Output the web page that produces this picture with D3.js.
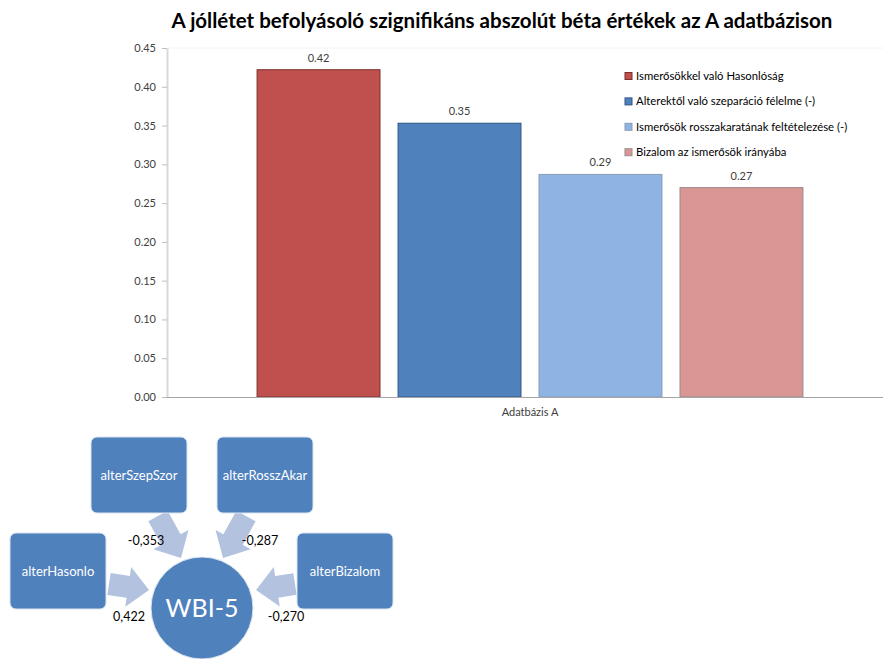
<!DOCTYPE html>
<html lang="en">
<head>
  <meta charset="UTF-8">
  <title>Béta értékek</title>
  <style>
    body, html {
      margin: 0;
      padding: 0;
      background: #fff;
    }
    svg text {
      font-family: Lato, "Open Sans", sans-serif;
    }
  </style>
</head>
<body>
  <svg id="svg" width="883" height="659"></svg>
  <script src="https://d3js.org/d3.v7.min.js"></script>
  <script>
    // chart data
    const category = "Adatbázis A"
    const series = [
      "Ismerősökkel való Hasonlóság",
      "Alterektől való szeparáció félelme (-)",
      "Ismerősök rosszakaratának feltételezése (-)",
      "Bizalom az ismerősök irányába"
    ]
    const values = [0.422, 0.353, 0.287, 0.270]
    const valueLabels = ["0.42", "0.35", "0.29", "0.27"]
    const tickValues = [0, 0.05, 0.10, 0.15, 0.20, 0.25, 0.30, 0.35, 0.40, 0.45]
    const fills = ["#c0504d", "#4f81bd", "#8eb4e3", "#d99694"]
    const strokes = ["#7a2f2d", "#2f5682", "#8a9bb5", "#9a8a8a"]

    // path diagram data
    const nodeNames = ["alterHasonlo", "alterSzepSzor", "alterRosszAkar", "alterBizalom"]
    const coefLabels = ["0,422", "-0,353", "-0,287", "-0,270"]
    const centerName = "WBI-5"

    const svg = d3.select("#svg")

    // title
    svg.append('text')
      .attr('x', 502)
      .attr('y', 28)
      .attr('text-anchor', 'middle')
      .style('font-size', '20.5px')
      .style('font-weight', 'bold')
      .style('fill', '#000')
      .text('A jóllétet befolyásoló szignifikáns abszolút béta értékek az A adatbázison')

    // scales
    const y = d3.scaleLinear().domain([0, 0.45]).range([397, 48])
    const x0 = d3.scaleBand().domain([category]).range([167, 893]).paddingOuter(0.165)
    const x1 = d3.scaleBand().domain(series)
      .range([x0(category), x0(category) + x0.bandwidth()])
      .paddingInner(0.128)

    // faint plot border top
    svg.append('line')
      .attr('x1', 167).attr('x2', 883)
      .attr('y1', y(0.45)).attr('y2', y(0.45))
      .attr('stroke', '#f2f2f2')

    // y axis
    const yAxis = svg.append('g')
      .attr('transform', 'translate(167,0)')
      .call(d3.axisLeft(y).tickValues(tickValues).tickFormat(d3.format('.2f')).tickSize(5).tickSizeOuter(0))
    yAxis.select('.domain').attr('stroke', '#d9d9d9').attr('stroke-width', 2)
    yAxis.selectAll('.tick line').attr('stroke', '#bfbfbf')
    yAxis.selectAll('.tick text')
      .attr('x', -11)
      .style('font-size', '11px')
      .style('fill', '#404040')
      .style('font-family', 'Lato, sans-serif')

    // bars
    svg.append('g')
      .selectAll('rect')
      .data(values)
      .enter()
      .append('rect')
      .attr('x', (d, i) => x1(series[i]))
      .attr('y', d => y(d))
      .attr('width', x1.bandwidth())
      .attr('height', d => y(0) - y(d))
      .attr('fill', (d, i) => fills[i])
      .attr('stroke', (d, i) => strokes[i])
      .attr('stroke-width', 1)

    // value labels
    svg.append('g')
      .selectAll('text')
      .data(values)
      .enter()
      .append('text')
      .attr('x', (d, i) => x1(series[i]) + x1.bandwidth() / 2)
      .attr('y', d => y(d) - 8)
      .attr('text-anchor', 'middle')
      .style('font-size', '11px')
      .style('fill', '#404040')
      .text((d, i) => valueLabels[i])

    // x axis
    const xAxis = svg.append('g')
      .attr('transform', `translate(0,${y(0)})`)
      .call(d3.axisBottom(x0).tickSize(0))
    xAxis.select('.domain').attr('stroke', '#a6a6a6').attr('d', 'M167,0.5H883')
    xAxis.selectAll('.tick text')
      .attr('y', 11)
      .style('font-size', '11px')
      .style('fill', '#404040')
      .style('font-family', 'Lato, sans-serif')

    // legend
    const legend = svg.append('g')
      .attr('transform', 'translate(625,76)')
    const rows = legend.selectAll('g')
      .data(series)
      .enter()
      .append('g')
      .attr('transform', (d, i) => `translate(0,${i * 25.4})`)
    rows.append('rect')
      .attr('x', 0).attr('y', -3.5)
      .attr('width', 7).attr('height', 7)
      .attr('fill', (d, i) => fills[i])
      .attr('stroke', (d, i) => strokes[i])
    rows.append('text')
      .attr('x', 11)
      .attr('y', 4)
      .style('font-size', '11.3px')
      .style('fill', '#000')
      .text(d => d)

    // path diagram
    const boxW = 96, boxH = 76
    const boxPos = [[10, 533], [91, 437], [217, 437], [297, 533]]
    const center = [202, 608], radius = 51
    const arrowFrom = [[109, 584], [158, 516], [246, 516], [295, 584]]
    const arrowTo = [[149, 590], [181, 558], [223, 558], [256, 590]]
    const labelPos = [[129, 621], [146, 545], [260, 545], [286, 621]]

    // block arrow polygon from a to b
    function arrowPath(a, b) {
      const dx = b[0] - a[0], dy = b[1] - a[1]
      const len = Math.hypot(dx, dy)
      const ux = dx / len, uy = dy / len
      const px = -uy, py = ux
      const shaft = 11, head = 20, headLen = 21
      const hb = [b[0] - ux * headLen, b[1] - uy * headLen]
      const pts = [
        [a[0] + px * shaft, a[1] + py * shaft],
        [hb[0] + px * shaft, hb[1] + py * shaft],
        [hb[0] + px * head, hb[1] + py * head],
        b,
        [hb[0] - px * head, hb[1] - py * head],
        [hb[0] - px * shaft, hb[1] - py * shaft],
        [a[0] - px * shaft, a[1] - py * shaft]
      ]
      return d3.line()(pts) + 'Z'
    }

    const diagram = svg.append('g')

    diagram.selectAll('path')
      .data(nodeNames)
      .enter()
      .append('path')
      .attr('d', (d, i) => arrowPath(arrowFrom[i], arrowTo[i]))
      .attr('fill', '#b3c3df')

    const boxes = diagram.selectAll('g.box')
      .data(nodeNames)
      .enter()
      .append('g')
      .attr('class', 'box')
      .attr('transform', (d, i) => `translate(${boxPos[i][0]},${boxPos[i][1]})`)
    boxes.append('rect')
      .attr('width', boxW).attr('height', boxH)
      .attr('rx', 6).attr('ry', 6)
      .attr('fill', '#4f81bd')
      .attr('stroke', '#dbe4f0')
      .attr('stroke-width', 1)
    boxes.append('text')
      .attr('x', boxW / 2)
      .attr('y', boxH / 2 + 5)
      .attr('text-anchor', 'middle')
      .style('font-size', '13px')
      .style('fill', '#fff')
      .text(d => d)

    diagram.append('circle')
      .attr('cx', center[0]).attr('cy', center[1])
      .attr('r', radius)
      .attr('fill', '#4f81bd')
      .attr('stroke', '#dbe4f0')
    diagram.append('text')
      .attr('x', center[0])
      .attr('y', center[1] + 9)
      .attr('text-anchor', 'middle')
      .style('font-size', '25px')
      .style('fill', '#fff')
      .text(centerName)

    diagram.selectAll('text.coef')
      .data(coefLabels)
      .enter()
      .append('text')
      .attr('class', 'coef')
      .attr('x', (d, i) => labelPos[i][0])
      .attr('y', (d, i) => labelPos[i][1])
      .attr('text-anchor', 'middle')
      .style('font-size', '12.5px')
      .style('fill', '#000')
      .text(d => d)
  </script>
</body>
</html>
